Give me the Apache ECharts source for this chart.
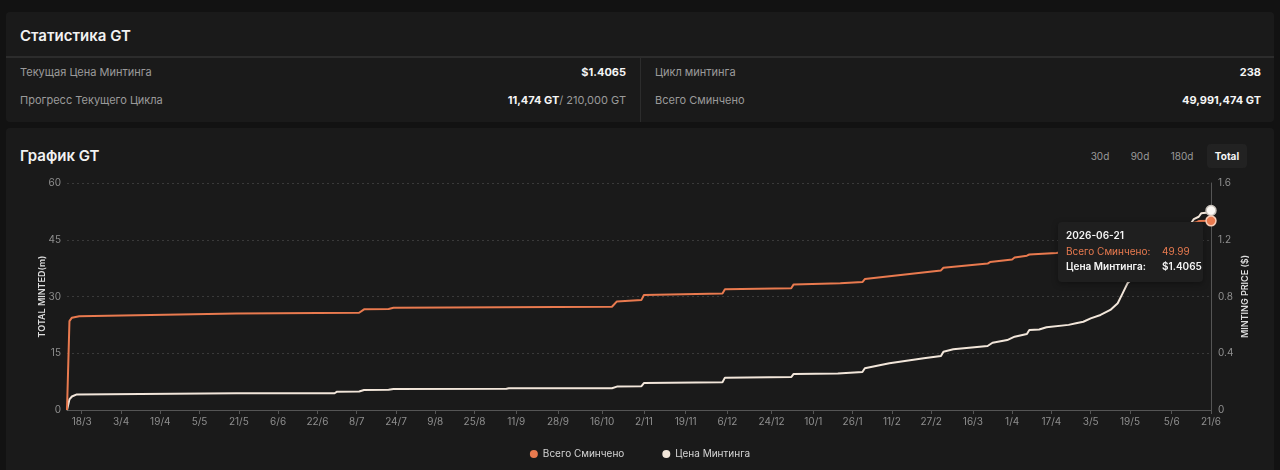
<!DOCTYPE html>
<html>
<head>
<meta charset="utf-8">
<script src="https://cdn.jsdelivr.net/npm/echarts@6/dist/echarts.min.js"></script>
<style>
  html,body{margin:0;padding:0;width:1280px;height:470px;overflow:hidden;background:#121212;font-family:Inter,"Noto Sans",sans-serif;}
  .card{position:absolute;background:#1a1a1a;border-radius:4px;}
  #stats{left:6px;top:12px;width:1268px;height:110px;}
  #chartCard{left:6px;top:128px;width:1268px;height:350px;}
  .title{position:absolute;left:14px;color:#f2f2f2;font-size:15px;font-weight:600;}
  .sep{position:absolute;left:0;top:44px;width:1268px;height:2px;background:#2c2c2c;}
  .vsep{position:absolute;left:634px;top:46px;width:1px;height:64px;background:#2c2c2c;}
  .row{position:absolute;font-size:11px;color:#9a9a9a;}
  .val{position:absolute;font-size:11px;color:#f5f5f5;font-weight:700;text-align:right;}
  .val span{color:#9a9a9a;font-weight:400;}
  .btn{position:absolute;top:148px;font-size:10px;color:#9a9a9a;width:40px;text-align:center;line-height:16px;}
  .btn.active{background:#222222;color:#f5f5f5;font-weight:700;border-radius:4px;top:144px;height:24px;line-height:24px;}
  #chart{position:absolute;left:0;top:128px;width:1280px;height:342px;}
</style>
</head>
<body>
<div class="card" id="stats">
  <div class="title" style="top:14px;">Статистика GT</div>
  <div class="sep"></div>
  <div class="vsep"></div>
  <div class="row" style="left:14px;top:53px;">Текущая Цена Минтинга</div>
  <div class="val" style="right:648px;top:53px;">$1.4065</div>
  <div class="row" style="left:14px;top:81px;">Прогресс Текущего Цикла</div>
  <div class="val" style="right:648px;top:81px;">11,474 GT<span>/ 210,000 GT</span></div>
  <div class="row" style="left:649px;top:53px;">Цикл минтинга</div>
  <div class="val" style="right:13px;top:53px;">238</div>
  <div class="row" style="left:649px;top:81px;">Всего Сминчено</div>
  <div class="val" style="right:13px;top:81px;">49,991,474 GT</div>
</div>
<div class="card" id="chartCard">
  <div class="title" style="top:18px;">График GT</div>
</div>
<div class="btn" style="left:1080px;">30d</div>
<div class="btn" style="left:1120px;">90d</div>
<div class="btn" style="left:1162px;">180d</div>
<div class="btn active" style="left:1207px;">Total</div>
<div id="chart"></div>
<script>
// ---- data ----
const mintedName = 'Всего Сминчено';
const priceName = 'Цена Минтинга';
const xMin = '2025-03-12';
const xMax = '2026-06-21';
const tickDates = ['2025-03-18','2025-04-03','2025-04-19','2025-05-05','2025-05-21','2025-06-06','2025-06-22','2025-07-08','2025-07-24','2025-08-09','2025-08-25','2025-09-11','2025-09-28','2025-10-16','2025-11-02','2025-11-19','2025-12-06','2025-12-24','2026-01-10','2026-01-26','2026-02-11','2026-02-27','2026-03-16','2026-04-01','2026-04-17','2026-05-03','2026-05-19','2026-06-05','2026-06-21'];
const mintedDates = ['2025-03-12','2025-03-13','2025-03-14','2025-03-17','2025-05-20','2025-07-09','2025-07-11','2025-07-21','2025-07-23','2025-10-20','2025-10-22','2025-11-01','2025-11-02','2025-12-04','2025-12-05','2026-01-01','2026-01-02','2026-01-21','2026-01-30','2026-01-31','2026-03-03','2026-03-04','2026-03-22','2026-03-23','2026-04-01','2026-04-02','2026-04-07','2026-04-08','2026-04-19','2026-05-01','2026-05-10','2026-05-19','2026-06-01','2026-06-10','2026-06-15','2026-06-16','2026-06-21'];
const mintedValues = [0,23.5,24.4,24.8,25.5,25.7,26.6,26.7,27.05,27.3,28.7,29.1,30.4,30.8,31.9,32.2,33.2,33.5,33.8,34.6,36.9,37.6,38.7,39.1,39.8,40.3,40.8,41.1,41.5,42.8,44.0,45.5,47.4,48.9,49.6,49.95,49.99];
const priceDates = ['2025-03-12','2025-03-13','2025-03-14','2025-03-16','2025-05-20','2025-06-29','2025-06-30','2025-07-09','2025-07-11','2025-07-21','2025-07-23','2025-09-07','2025-09-08','2025-10-20','2025-10-22','2025-11-01','2025-11-02','2025-12-04','2025-12-05','2026-01-01','2026-01-02','2026-01-20','2026-01-30','2026-01-31','2026-02-10','2026-02-24','2026-03-03','2026-03-04','2026-03-08','2026-03-22','2026-03-24','2026-03-30','2026-04-02','2026-04-07','2026-04-08','2026-04-12','2026-04-15','2026-04-24','2026-04-27','2026-04-30','2026-05-03','2026-05-07','2026-05-11','2026-05-14','2026-05-16','2026-05-18','2026-05-22','2026-05-27','2026-06-01','2026-06-05','2026-06-09','2026-06-13','2026-06-14','2026-06-16','2026-06-17','2026-06-19','2026-06-21'];
const priceValues = [0,0.075,0.095,0.11,0.118,0.118,0.129,0.13,0.141,0.142,0.148,0.15,0.153,0.153,0.165,0.168,0.19,0.195,0.228,0.232,0.254,0.258,0.268,0.294,0.33,0.365,0.38,0.411,0.428,0.451,0.474,0.493,0.517,0.536,0.564,0.567,0.583,0.60,0.611,0.622,0.646,0.67,0.705,0.752,0.822,0.893,0.96,1.04,1.12,1.19,1.26,1.32,1.345,1.362,1.386,1.39,1.4065];

const ORANGE = '#e97a4f';
const CREAM = '#f2e6da';

function ts(s){ return +new Date(s + 'T00:00:00'); }
function buildData(dates, vals, lastItemStyle){
  return dates.map((d,i) => {
    if (i === dates.length - 1) {
      return { value:[ts(d), vals[i]], symbol:'circle', symbolSize:9, itemStyle:lastItemStyle };
    }
    return [ts(d), vals[i]];
  });
}
function pad(n){ return (n<10?'0':'') + n; }

const chart = echarts.init(document.getElementById('chart'));
chart.setOption({
  animation:false,
  textStyle:{fontFamily:'Inter, "Noto Sans", sans-serif'},
  grid:{left:67, right:69, top:55, bottom:60},
  legend:{
    top:316, left:'center', icon:'circle', itemWidth:8, itemHeight:8, itemGap:38,
    textStyle:{color:'#d4d4d4', fontSize:10},
    data:[mintedName, priceName]
  },
  tooltip:{
    trigger:'axis', triggerOn:'none', alwaysShowContent:true, transitionDuration:0,
    axisPointer:{type:'line', lineStyle:{opacity:0}},
    backgroundColor:'#1f1f1f', borderWidth:0, padding:[6,8,8,8],
    extraCssText:'border-radius:4px;box-shadow:0 2px 6px rgba(0,0,0,0.35);width:129px;',
    position:function(){ return [1058, 94]; },
    formatter:function(params){
      const d = new Date(params[0].axisValue);
      const dateStr = d.getFullYear() + '-' + pad(d.getMonth()+1) + '-' + pad(d.getDate());
      let m = params.find(p => p.seriesIndex === 0);
      let p = params.find(p => p.seriesIndex === 1);
      const lab = 'display:inline-block;width:96px;';
      return '<div style="font-family:Inter,sans-serif;font-size:10px;line-height:15px;">' +
        '<div style="color:#f5f5f5;font-weight:600;margin-bottom:1px;">' + dateStr + '</div>' +
        '<div style="color:'+ORANGE+';"><span style="'+lab+'">' + mintedName + ':</span>' + m.value[1].toFixed(2) + '</div>' +
        '<div style="color:#f5f5f5;font-weight:600;"><span style="'+lab+'">' + priceName + ':</span>$' + p.value[1].toFixed(4) + '</div>' +
        '</div>';
    }
  },
  xAxis:{
    type:'value', min:ts(xMin), max:ts(xMax),
    axisLine:{lineStyle:{color:'#555555'}},
    axisTick:{show:true, customValues:tickDates.map(ts), length:4, lineStyle:{color:'#555555'}},
    axisLabel:{customValues:tickDates.map(ts), color:'#8f8f8f', fontSize:10, margin:7,
      formatter:function(v){ const d = new Date(v); return d.getDate() + '/' + (d.getMonth()+1); }},
    splitLine:{show:false}
  },
  yAxis:[
    {
      type:'value', min:0, max:60, interval:15, position:'left',
      name:'TOTAL MINTED(m)', nameLocation:'middle', nameGap:20, nameMoveOverlap:false,
      nameTextStyle:{color:'#dddddd', fontSize:9, fontWeight:600},
      axisLine:{show:false}, axisTick:{show:false},
      axisLabel:{color:'#8f8f8f', fontSize:10, margin:6},
      splitLine:{lineStyle:{color:'#3a3a3a', type:[2,3]}}
    },
    {
      type:'value', min:0, max:1.6, interval:0.4, position:'right',
      name:'MINTING PRICE ($)', nameLocation:'middle', nameGap:30, nameMoveOverlap:false,
      nameTextStyle:{color:'#dddddd', fontSize:9, fontWeight:600},
      axisLine:{show:true, lineStyle:{color:'#555555'}}, axisTick:{show:false},
      axisLabel:{color:'#8f8f8f', fontSize:10, margin:7},
      splitLine:{show:false}
    }
  ],
  series:[
    {
      name:mintedName, type:'line', yAxisIndex:0, symbol:'none', showSymbol:true,
      lineStyle:{color:ORANGE, width:2}, itemStyle:{color:ORANGE},
      emphasis:{disabled:true}, z:3,
      data:buildData(mintedDates, mintedValues, {color:ORANGE, borderColor:'#f7cdb8', borderWidth:1.5})
    },
    {
      name:priceName, type:'line', yAxisIndex:1, symbol:'none', showSymbol:true,
      lineStyle:{color:CREAM, width:2}, itemStyle:{color:CREAM},
      emphasis:{disabled:true}, z:2,
      data:buildData(priceDates, priceValues, {color:'#fbf7f3', borderColor:'#c9c2bb', borderWidth:1.5})
    }
  ]
});
chart.dispatchAction({type:'showTip', seriesIndex:0, dataIndex:mintedDates.length-1});
</script>
</body>
</html>
